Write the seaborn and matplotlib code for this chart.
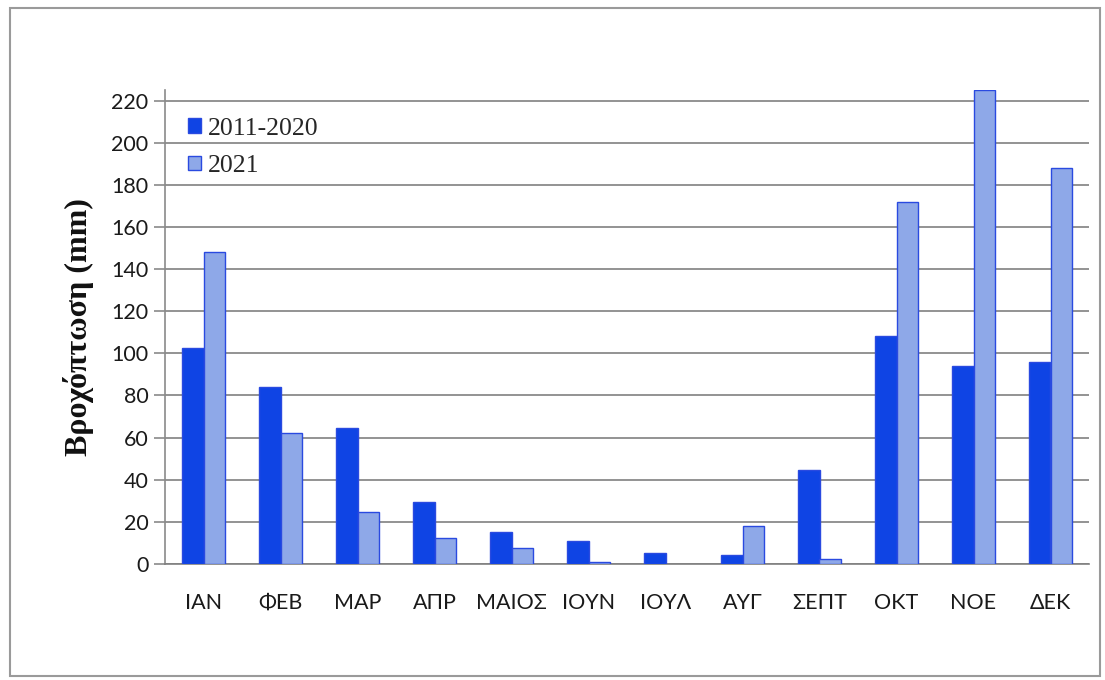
import matplotlib
matplotlib.use("Agg")
import matplotlib.pyplot as plt
import matplotlib.patches as mpatches
import seaborn as sns
import pandas as pd

# Monthly rainfall (mm)
months = ["ΙΑΝ", "ΦΕΒ", "ΜΑΡ", "ΑΠΡ", "ΜΑΙΟΣ", "ΙΟΥΝ", "ΙΟΥΛ", "ΑΥΓ", "ΣΕΠΤ", "ΟΚΤ", "ΝΟΕ", "ΔΕΚ"]
series_names = ["2011-2020", "2021"]
rain_2011_2020 = [102.5, 84, 64.5, 29.5, 15, 11, 5, 4.5, 44.5, 108, 94, 96]
rain_2021 = [148, 62, 24.5, 12.5, 7.5, 1, 0, 18, 2.5, 172, 225, 188]
y_ticks = [0, 20, 40, 60, 80, 100, 120, 140, 160, 180, 200, 220]

df = pd.DataFrame({
    "month": months * 2,
    "period": [series_names[0]] * len(months) + [series_names[1]] * len(months),
    "rain": rain_2011_2020 + rain_2021,
})

dark_blue = "#0F44E4"
light_blue = "#8EA8E8"
edge_blue = "#2A4AE0"

sns.set_theme(style="white")
plt.rcParams["font.family"] = ["Lato", "DejaVu Sans"]

fig = plt.figure(figsize=(11.05, 6.8), dpi=100)
ax = fig.add_axes([165 / 1105, 1 - 564 / 680, (1089 - 165) / 1105, (564 - 90) / 680])

sns.barplot(data=df, x="month", y="rain", hue="period", order=months,
            hue_order=series_names, palette=[dark_blue, light_blue],
            width=0.565, gap=0, saturation=1, ax=ax, legend=False, zorder=3)

for bar in ax.patches:
    h = bar.get_height()
    bar.set_edgecolor(edge_blue)
    bar.set_linewidth(1.0 if h > 0 else 0)

ax.set_ylim(0, 225)
ax.set_yticks(y_ticks)
ax.set_yticklabels([str(v) for v in y_ticks])
ax.yaxis.grid(True, color="#808080", linewidth=1.2, zorder=0)
ax.xaxis.grid(False)

for side in ["top", "right"]:
    ax.spines[side].set_visible(False)
ax.spines["left"].set_color("#8a8a8a")
ax.spines["left"].set_linewidth(1.2)
ax.spines["bottom"].set_color("#808080")
ax.spines["bottom"].set_linewidth(1.2)

ax.tick_params(axis="y", which="major", left=True, length=8, width=1.2,
               color="#8a8a8a", labelsize=15.5, pad=4, labelcolor="#1a1a1a")
ax.tick_params(axis="x", which="major", bottom=False, length=0,
               labelsize=15.5, pad=21, labelcolor="#1a1a1a")

ax.set_xlabel("")
ax.set_ylabel("Βροχόπτωση (mm)", family=["Liberation Serif", "DejaVu Serif"],
              fontweight="bold", fontsize=23, color="#111111", labelpad=12)

handles = [
    mpatches.Patch(facecolor=dark_blue, edgecolor=edge_blue, linewidth=1.0, label=series_names[0]),
    mpatches.Patch(facecolor=light_blue, edgecolor=edge_blue, linewidth=1.0, label=series_names[1]),
]
ax.legend(handles=handles, loc="upper left", bbox_to_anchor=(0.0, 0.99),
          frameon=False, handlelength=0.5, handleheight=0.5, handletextpad=0.25,
          labelspacing=0.6, borderaxespad=0.5,
          prop={"family": ["Liberation Serif", "DejaVu Serif"], "size": 18.5})

# Grey frame around the whole chart
fig.patches.append(mpatches.Rectangle((10 / 1105, 1 - 676 / 680), 1090 / 1105, 668 / 680,
                                      transform=fig.transFigure, fill=False,
                                      edgecolor="#9a9a9a", linewidth=1.5, zorder=0))

fig.savefig("out.png", dpi=100, facecolor="white")
